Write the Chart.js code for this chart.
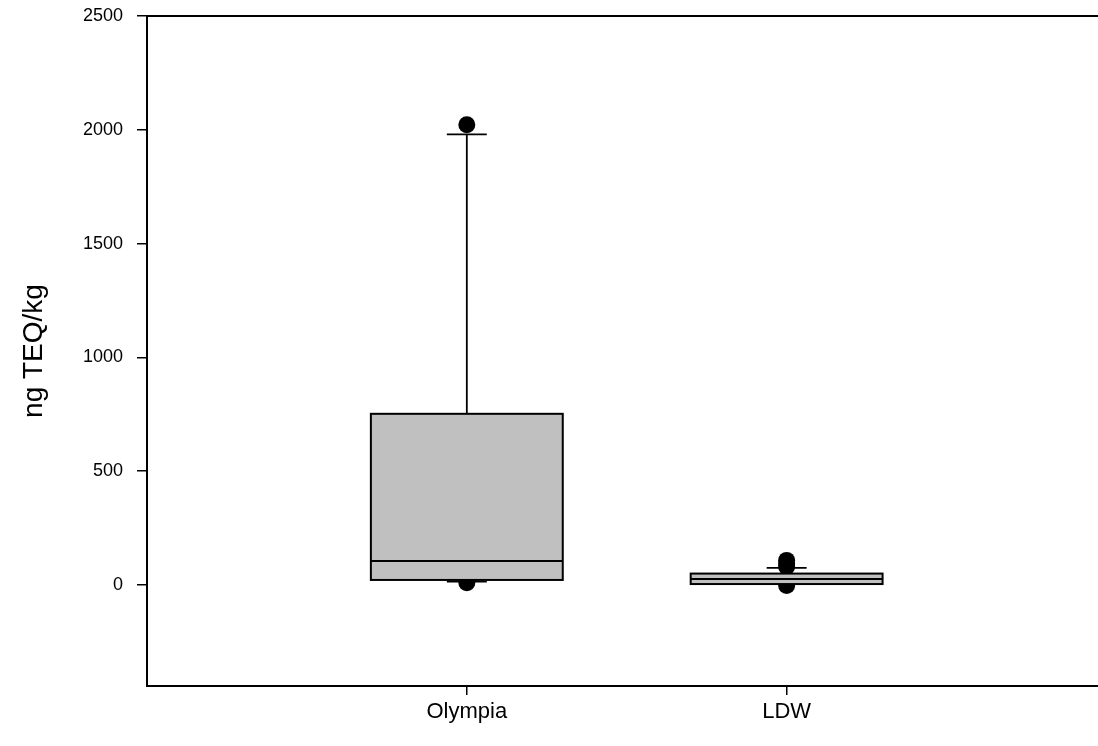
<!DOCTYPE html>
<html>
<head>
<meta charset="utf-8">
<title>ng TEQ/kg</title>
<script src="https://cdn.jsdelivr.net/npm/chart.js@4/dist/chart.umd.min.js"></script>
<style>
  html, body { margin: 0; padding: 0; background: #ffffff; overflow: hidden; }
  #chart { display: block; }
</style>
</head>
<body>
<canvas id="chart" width="1098" height="746"></canvas>
<script>
// Box-plot summaries per site
const categories = ['Olympia', 'LDW'];
const lowerWhisker = [15, 4];
const q1 = [22, 4];
const median = [105, 26];
const q3 = [752, 50];
const upperWhisker = [1980, 75];
// Points beyond the whiskers
const outliers = [[2022, 10], [108, 92, 80, -2]];
// Y axis
const yTicks = [0, 500, 1000, 1500, 2000, 2500];
const yMin = -444;
const yMax = 2500;

const FONT = '"Liberation Sans", Arial, Helvetica, sans-serif';

const outlierPoints = outliers.flatMap((vals, i) => vals.map(v => ({ x: i + 1, y: v })));

// Draws boxes, medians and whiskers on top of the outlier points, plus the frame lines
// that run on to the right edge of the canvas
const boxPlotPlugin = {
  id: 'boxPlot',
  afterDatasetsDraw(chart) {
    const { ctx, chartArea, scales: { x, y } } = chart;
    ctx.save();
    ctx.strokeStyle = '#000000';
    ctx.lineCap = 'butt';

    // top frame line and the open right end of the bottom axis
    ctx.lineWidth = 2;
    ctx.beginPath();
    ctx.moveTo(chartArea.left - 1, chartArea.top);
    ctx.lineTo(chart.width, chartArea.top);
    ctx.moveTo(chartArea.right - 2, chartArea.bottom);
    ctx.lineTo(chart.width, chartArea.bottom);
    ctx.stroke();

    categories.forEach((name, i) => {
      const cx = x.getPixelForValue(i + 1);
      const half = x.getPixelForValue(i + 1 + 0.3) - cx;
      const capHalf = x.getPixelForValue(i + 1 + 0.0625) - cx;
      const yq1 = y.getPixelForValue(q1[i]);
      const yq3 = y.getPixelForValue(q3[i]);
      const ymed = y.getPixelForValue(median[i]);
      const ylo = y.getPixelForValue(lowerWhisker[i]);
      const yhi = y.getPixelForValue(upperWhisker[i]);

      // whiskers
      ctx.lineWidth = 1.8;
      ctx.beginPath();
      ctx.moveTo(cx, yq3); ctx.lineTo(cx, yhi);
      ctx.moveTo(cx - capHalf, yhi); ctx.lineTo(cx + capHalf, yhi);
      ctx.moveTo(cx, yq1); ctx.lineTo(cx, ylo);
      ctx.moveTo(cx - capHalf, ylo); ctx.lineTo(cx + capHalf, ylo);
      ctx.stroke();

      // box
      ctx.fillStyle = '#c0c0c0';
      ctx.fillRect(cx - half, yq3, 2 * half, yq1 - yq3);
      ctx.lineWidth = 2;
      ctx.strokeRect(cx - half, yq3, 2 * half, yq1 - yq3);

      // median
      ctx.beginPath();
      ctx.moveTo(cx - half, ymed); ctx.lineTo(cx + half, ymed);
      ctx.stroke();
    });
    ctx.restore();
  }
};

new Chart(document.getElementById('chart'), {
  type: 'scatter',
  data: {
    datasets: [{
      data: outlierPoints,
      pointRadius: 8.5,
      pointHoverRadius: 8.5,
      pointBackgroundColor: '#000000',
      pointBorderColor: '#000000',
      pointBorderWidth: 0,
      showLine: false
    }]
  },
  options: {
    responsive: false,
    animation: false,
    devicePixelRatio: 1,
    layout: { padding: { top: 16, right: 0, bottom: 0, left: 0 } },
    plugins: {
      legend: { display: false },
      tooltip: { enabled: false }
    },
    scales: {
      x: {
        type: 'linear',
        min: 0,
        max: 2.947,
        afterBuildTicks: s => { s.ticks = categories.map((c, i) => ({ value: i + 1 })); },
        afterFit: s => {
          s.height = 60;
          s.paddingLeft = 0;
          s.paddingRight = 0;
        },
        ticks: {
          callback: v => categories[v - 1] ?? '',
          color: '#000000',
          font: { family: FONT, size: 22 },
          padding: 4,
          maxRotation: 0,
          autoSkip: false
        },
        grid: {
          display: true,
          drawOnChartArea: false,
          drawTicks: true,
          tickLength: 9,
          color: '#000000',
          lineWidth: 1.5
        },
        border: { display: true, color: '#000000', width: 2 }
      },
      y: {
        type: 'linear',
        min: yMin,
        max: yMax,
        afterBuildTicks: s => { s.ticks = yTicks.map(v => ({ value: v })); },
        afterFit: s => {
          s.width = 147;
          s.paddingTop = 0;
          s.paddingBottom = 0;
        },
        ticks: {
          callback: v => String(v),
          color: '#000000',
          font: { family: FONT, size: 18 },
          padding: 14
        },
        grid: {
          display: true,
          drawOnChartArea: false,
          drawTicks: true,
          tickLength: 10,
          color: '#000000',
          lineWidth: 1.5
        },
        border: { display: true, color: '#000000', width: 2 },
        title: {
          display: true,
          text: 'ng TEQ/kg',
          color: '#000000',
          font: { family: FONT, size: 28 },
          padding: { top: 17, bottom: 0 }
        }
      }
    }
  },
  plugins: [boxPlotPlugin]
});
</script>
</body>
</html>
